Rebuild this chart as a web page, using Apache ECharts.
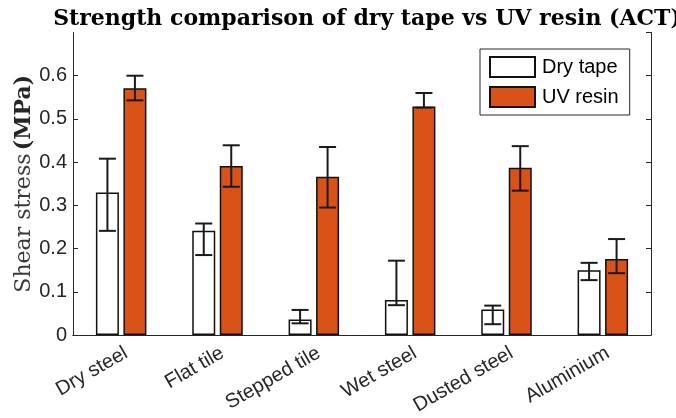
<!DOCTYPE html>
<html>
<head>
<meta charset="utf-8">
<script src="https://cdn.jsdelivr.net/npm/echarts@6/dist/echarts.min.js"></script>
<style>
  html, body { margin: 0; padding: 0; background: #fff; }
  #chart { width: 676px; height: 418px; }
</style>
</head>
<body>
<div id="chart"></div>
<script>
// Surfaces tested
const categories = ['Dry steel', 'Flat tile', 'Stepped tile', 'Wet steel', 'Dusted steel', 'Aluminium'];

// Mean shear stress (MPa)
const dryTape = [0.330, 0.241, 0.036, 0.081, 0.059, 0.150];
const uvResin = [0.571, 0.391, 0.366, 0.529, 0.387, 0.176];

// Error bar limits (MPa)
const dryTapeLow  = [0.241, 0.185, 0.027, 0.069, 0.025, 0.127];
const dryTapeHigh = [0.408, 0.258, 0.058, 0.172, 0.068, 0.167];
const uvResinLow  = [0.543, 0.343, 0.295, 0.526, 0.334, 0.143];
const uvResinHigh = [0.600, 0.439, 0.435, 0.560, 0.437, 0.222];

const seriesNames = ['Dry tape', 'UV resin'];
const yTicks = [0, 0.1, 0.2, 0.3, 0.4, 0.5, 0.6];

const AXIS_COLOR = '#262626';
const ORANGE = '#D95319';
const BAR_W = 23;
const BAR_GAP_PX = 4.5;
const FONT = '"Liberation Sans", Arial, sans-serif';

// Error bars drawn on the category axis, shifted to the centre of each bar
function errorBarSeries(name, low, high, side) {
  const data = categories.map((c, i) => [i, low[i], high[i]]);
  return {
    type: 'custom',
    name: name + ' error',
    data: data,
    z: 10,
    silent: true,
    renderItem: function (params, api) {
      const i = api.value(0);
      const pLo = api.coord([i, api.value(1)]);
      const pHi = api.coord([i, api.value(2)]);
      const dx = side * (BAR_W + BAR_GAP_PX) / 2;
      const x = pLo[0] + dx;
      const cap = 8.5;
      const style = { stroke: '#1a1a1a', lineWidth: 2 };
      return {
        type: 'group',
        children: [
          { type: 'line', shape: { x1: x, y1: pLo[1], x2: x, y2: pHi[1] }, style: style },
          { type: 'line', shape: { x1: x - cap, y1: pLo[1], x2: x + cap, y2: pLo[1] }, style: style },
          { type: 'line', shape: { x1: x - cap, y1: pHi[1], x2: x + cap, y2: pHi[1] }, style: style }
        ]
      };
    }
  };
}

const chart = echarts.init(document.getElementById('chart'), null, { renderer: 'canvas' });

chart.setOption({
  animation: false,
  backgroundColor: '#ffffff',
  title: {
    text: 'Strength comparison of dry tape vs UV resin (ACT)',
    left: 362,
    textAlign: 'center',
    top: 3,
    textStyle: {
      fontFamily: '"DejaVu Serif", serif',
      fontWeight: 'bold',
      fontSize: 22,
      color: '#000'
    }
  },
  legend: {
    orient: 'vertical',
    left: 480,
    top: 49,
    padding: [7, 11, 7, 9],
    itemWidth: 45,
    itemHeight: 20,
    itemGap: 8,
    icon: 'rect',
    borderColor: AXIS_COLOR,
    borderWidth: 1,
    backgroundColor: '#fff',
    data: seriesNames,
    textStyle: { fontFamily: FONT, fontSize: 20, color: '#000', padding: [0, 0, 0, 2] }
  },
  grid: { left: 73, right: 25, top: 32.5, bottom: 83, containLabel: false },
  xAxis: [
    {
      type: 'category',
      data: categories,
      axisLine: { lineStyle: { color: AXIS_COLOR, width: 1 } },
      axisTick: { inside: true, length: 4, alignWithLabel: true, lineStyle: { color: AXIS_COLOR } },
      axisLabel: {
        rotate: 30,
        interval: 0,
        margin: 8,
        verticalAlign: 'top',
        fontFamily: FONT,
        fontSize: 20,
        color: AXIS_COLOR
      }
    },
    {
      type: 'category',
      position: 'top',
      data: categories,
      axisLine: { lineStyle: { color: AXIS_COLOR, width: 1 } },
      axisTick: { inside: true, length: 4, alignWithLabel: true, lineStyle: { color: AXIS_COLOR } },
      axisLabel: { show: false }
    }
  ],
  yAxis: [
    {
      type: 'value',
      min: 0,
      max: 0.7,
      interval: 0.1,
      name: '{n|Shear stress} {b|(MPa)}',
      nameLocation: 'middle',
      nameRotate: 90,
      nameGap: 38,
      nameMoveOverlap: false,
      nameTextStyle: {
        rich: {
          n: { fontFamily: '"DejaVu Serif", serif', fontSize: 22, color: '#3a3a3a' },
          b: { fontFamily: '"DejaVu Serif", serif', fontSize: 22, fontWeight: 'bold', color: '#262626' }
        }
      },
      splitLine: { show: false },
      axisLine: { show: true, lineStyle: { color: AXIS_COLOR, width: 1 } },
      axisTick: { show: true, inside: true, length: 5, lineStyle: { color: AXIS_COLOR } },
      axisLabel: {
        showMaxLabel: false,
        margin: 6,
        fontFamily: FONT,
        fontSize: 20,
        color: AXIS_COLOR,
        formatter: function (v) {
          const t = yTicks.find(k => Math.abs(k - v) < 1e-9);
          return t === undefined ? '' : String(t);
        }
      }
    },
    {
      type: 'value',
      position: 'right',
      min: 0,
      max: 0.7,
      interval: 0.1,
      splitLine: { show: false },
      axisLine: { show: true, lineStyle: { color: AXIS_COLOR, width: 1 } },
      axisTick: { show: true, inside: true, length: 5, lineStyle: { color: AXIS_COLOR } },
      axisLabel: { show: false }
    }
  ],
  series: [
    {
      name: seriesNames[0],
      type: 'bar',
      data: dryTape,
      barWidth: BAR_W,
      barGap: (BAR_GAP_PX / BAR_W * 100) + '%',
      itemStyle: { color: '#ffffff', borderColor: '#111', borderWidth: 1.5 }
    },
    {
      name: seriesNames[1],
      type: 'bar',
      data: uvResin,
      barWidth: BAR_W,
      barGap: (BAR_GAP_PX / BAR_W * 100) + '%',
      itemStyle: { color: ORANGE, borderColor: '#111', borderWidth: 1.5 }
    },
    errorBarSeries(seriesNames[0], dryTapeLow, dryTapeHigh, -1),
    errorBarSeries(seriesNames[1], uvResinLow, uvResinHigh, 1)
  ]
});
</script>
</body>
</html>
